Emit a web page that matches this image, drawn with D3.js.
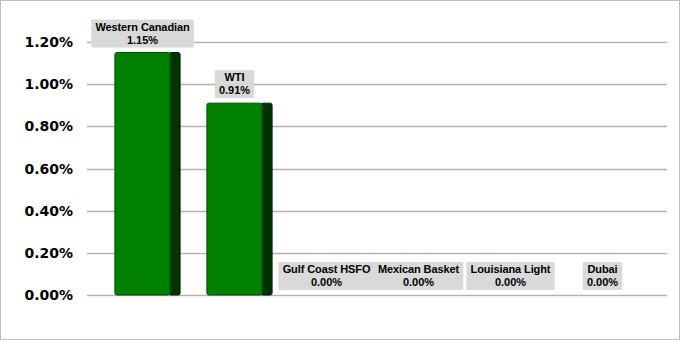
<!DOCTYPE html>
<html>
<head>
<meta charset="utf-8">
<script src="https://cdn.jsdelivr.net/npm/d3@7"></script>
<style>
  body { margin: 0; background: #fff; }
  svg { display: block; }
</style>
</head>
<body>
<svg id="chart" width="681" height="341"></svg>
<script>
var categories = ["Western Canadian", "WTI", "Gulf Coast HSFO", "Mexican Basket", "Louisiana Light", "Dubai"];
var values = [1.15, 0.91, 0.00, 0.00, 0.00, 0.00];
var yTicks = [0, 0.2, 0.4, 0.6, 0.8, 1.0, 1.2];

var svg = d3.select("#chart");

// chart frame
svg.append("rect")
  .attr("x", 0.5).attr("y", 0.5)
  .attr("width", 679).attr("height", 339)
  .style("fill", "white").style("stroke", "#bfbfbf");

var y = d3.scaleLinear().domain([0, 1.2]).range([295, 42]);
var x = d3.scaleBand().domain(categories).range([96.5, 648.5]).paddingInner(0.4).paddingOuter(0.2);

// gridlines
svg.append("g")
  .selectAll("line")
  .data(yTicks)
  .join("line")
  .attr("x1", 87).attr("x2", 667)
  .attr("y1", d => Math.round(y(d)) + 0.5)
  .attr("y2", d => Math.round(y(d)) + 0.5)
  .style("stroke", "#b3b3b3")
  .style("stroke-width", 1.5);

// y axis labels
svg.append("g")
  .selectAll("text")
  .data(yTicks)
  .join("text")
  .attr("x", 73)
  .attr("y", d => y(d))
  .attr("dy", "0.36em")
  .style("text-anchor", "end")
  .style("font-family", "'DejaVu Sans', Verdana, sans-serif")
  .style("font-weight", "bold")
  .style("font-size", "14px")
  .text(d => d.toFixed(2) + "%");

// bars: front face + dark side
var depth = 11;
var bars = svg.append("g")
  .selectAll("g")
  .data(values.map((v, i) => ({ name: categories[i], value: v })))
  .join("g")
  .filter(d => d.value > 0);

bars.append("rect")
  .attr("x", d => x(d.name) + x.bandwidth() - 1)
  .attr("y", d => y(d.value))
  .attr("width", depth)
  .attr("height", d => y(0) - y(d.value))
  .attr("rx", 2)
  .style("fill", "#003300")
  .style("stroke", "#002200")
  .style("stroke-width", 1);

bars.append("rect")
  .attr("x", d => x(d.name))
  .attr("y", d => y(d.value))
  .attr("width", x.bandwidth())
  .attr("height", d => y(0) - y(d.value))
  .attr("rx", 2)
  .style("fill", "#008000")
  .style("stroke", "#004d00")
  .style("stroke-width", 1);

// data labels
var labels = svg.append("g")
  .selectAll("g")
  .data(values.map((v, i) => ({ name: categories[i], value: v })))
  .join("g")
  .attr("transform", d => `translate(${x(d.name) + x.bandwidth() / 2}, ${y(d.value) - 16})`);

var labelFont = "'Liberation Sans', Arial, sans-serif";

labels.each(function(d) {
  var g = d3.select(this);
  var rect = g.append("rect").style("fill", "#d9d9d9");
  var t1 = g.append("text")
    .attr("y", -6)
    .style("text-anchor", "middle")
    .style("font-family", labelFont)
    .style("font-weight", "bold")
    .style("font-size", "11px")
    .style("letter-spacing", "-0.1px")
    .text(d.name);
  var t2 = g.append("text")
    .attr("y", 7)
    .style("text-anchor", "middle")
    .style("font-family", labelFont)
    .style("font-weight", "bold")
    .style("font-size", "11px")
    .text(d.value.toFixed(2) + "%");
  var w = Math.max(t1.node().getBBox().width, t2.node().getBBox().width);
  rect
    .attr("x", -w / 2 - 4)
    .attr("y", -17)
    .attr("width", w + 8)
    .attr("height", 28);
});
</script>
</body>
</html>
